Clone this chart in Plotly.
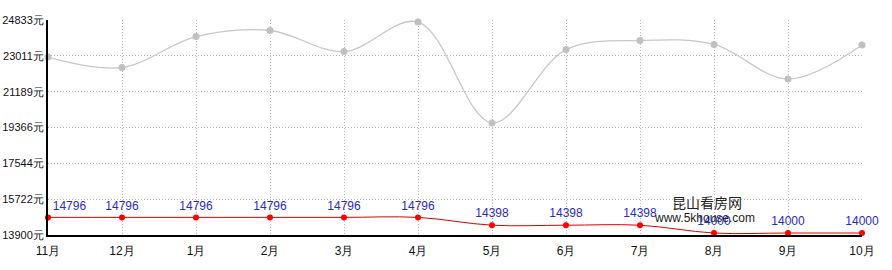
import plotly.graph_objects as go

months = ["11月", "12月", "1月", "2月", "3月", "4月", "5月", "6月", "7月", "8月", "9月", "10月"]
area_price = [22950, 22420, 23990, 24300, 23230, 24730, 19600, 23330, 23790, 23590, 21830, 23560]
project_price = [14796, 14796, 14796, 14796, 14796, 14796, 14398, 14398, 14398, 14000, 14000, 14000]
y_ticks = [13900, 15722, 17544, 19366, 21189, 23011, 24833]
y_ticktext = [f"{v}元" for v in y_ticks]

fig = go.Figure()
fig.add_trace(go.Scatter(
    x=months, y=area_price, mode="lines+markers",
    line=dict(color="#c8c8c8", width=1.3, shape="spline", smoothing=1),
    marker=dict(color="#c0c0c0", size=7),
    hoverinfo="skip", cliponaxis=False))
fig.add_trace(go.Scatter(
    x=months, y=project_price, mode="lines+markers+text",
    line=dict(color="#e00000", width=1, shape="spline", smoothing=1),
    marker=dict(color="#ff0000", size=6),
    text=[str(v) for v in project_price],
    textposition=["top right"] + ["top center"] * (len(months) - 1),
    textfont=dict(color="#2a2acc", size=12, family="Liberation Sans, Arial"),
    hoverinfo="skip", cliponaxis=False))

fig.update_layout(
    width=892, height=270,
    margin=dict(l=48, r=30, t=20, b=35),
    paper_bgcolor="white", plot_bgcolor="white",
    showlegend=False,
    font=dict(family="Liberation Sans, Arial", size=12, color="#111"),
)
fig.update_xaxes(
    type="category", range=[0, len(months) - 1], automargin=False,
    ticklabelstandoff=4,
    showgrid=True, gridcolor="#b8b8b8", griddash="1px,2px", gridwidth=1,
    showline=True, linecolor="black", linewidth=2,
    ticks="", tickfont=dict(size=12, color="#111"), zeroline=False)
fig.update_yaxes(
    range=[y_ticks[0], y_ticks[-1]], tickvals=y_ticks, ticktext=y_ticktext,
    automargin=False, ticklabelstandoff=0,
    showgrid=True, gridcolor="#b8b8b8", griddash="1px,2px", gridwidth=1,
    showline=True, linecolor="black", linewidth=2,
    ticks="", tickfont=dict(size=11, color="#111"), zeroline=False)

fig.add_annotation(x=707, y=202, xref="paper", yref="paper", text="昆山看房网",
                   xanchor="center", yanchor="middle",
                   showarrow=False, font=dict(size=14, color="#222", family="Noto Sans CJK SC"))
fig.add_annotation(x=704, y=218, xref="paper", yref="paper", text="www.5khouse.com",
                   xanchor="center", yanchor="middle",
                   showarrow=False, font=dict(size=12, color="#222", family="Liberation Sans, Arial"))

# convert pixel positions to paper coordinates
pw, ph = 892 - 48 - 30, 270 - 20 - 35
for a in fig.layout.annotations:
    a.x = (a.x - 48) / pw
    a.y = 1 - (a.y - 20) / ph

fig.write_html("out.html")
